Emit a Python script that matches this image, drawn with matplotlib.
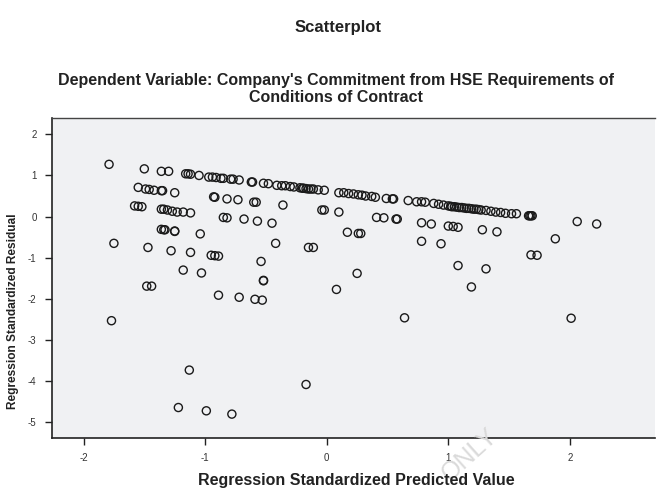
import matplotlib
matplotlib.use("Agg")
import matplotlib.pyplot as plt

plt.rcParams['font.family'] = ['Liberation Sans', 'DejaVu Sans']

title = "Scatterplot"
subtitle = ("Dependent Variable: Company's Commitment from HSE Requirements of\n"
            "Conditions of Contract")
x_label = "Regression Standardized Predicted Value"
y_label = "Regression Standardized Residual"

x_ticks = [-2, -1, 0, 1, 2]
y_ticks = [2, 1, 0, -1, -2, -3, -4, -5]

# Standardized predicted values (x) and standardized residuals (y)
predicted = [
    # upper diagonal band
    -1.79, -1.50, -1.36, -1.30, -1.16, -1.14, -1.12, -1.05, -0.97, -0.94,
    -0.91, -0.87, -0.85, -0.79, -0.77, -0.72, -0.62, -0.61, -0.52, -0.48,
    -0.41, -0.37, -0.34, -0.30, -0.27, -0.22, -0.20, -0.19, -0.17, -0.15,
    -0.13, -0.11, -0.07, -0.02, 0.10, 0.14, 0.18, 0.22, 0.26, 0.29,
    0.32, 0.37, 0.40, 0.49, 0.54, 0.55, 0.67, 0.74, 0.78, 0.81,
    0.88, 0.92, 0.96, 1.00, 1.02, 1.03, 1.05, 1.07, 1.09, 1.11,
    1.13, 1.15, 1.17, 1.19, 1.21, 1.23, 1.25, 1.27, 1.31, 1.35,
    1.39, 1.43, 1.47, 1.52, 1.56, 1.66, 1.67, 1.68, 1.69,
    # second band
    -1.55, -1.49, -1.46, -1.42, -1.36, -1.35, -1.25, -0.93, -0.92, -0.82,
    -0.73, -0.60, -0.58, -0.36, -0.04, -0.02, 0.10, 0.41, 0.47, 0.57,
    0.58, 0.78, 0.86, 1.00, 1.04, 1.08, 1.28, 1.40, 2.06, 2.22,
    # third band
    -1.58, -1.55, -1.52, -1.36, -1.34, -1.31, -1.27, -1.23, -1.18, -1.12,
    -0.85, -0.82, -0.68, -0.57, -0.45, 0.17, 0.26, 0.28, 0.78, 0.94,
    1.88, 1.68, 1.73,
    # below zero
    -1.36, -1.34, -1.33, -1.25, -1.25, -1.04, -1.75, -1.47, -1.28, -1.12,
    -0.95, -0.92, -0.89, -0.42, -0.15, -0.11, -0.54, -1.18, -1.03, -0.52,
    -0.52, -1.48, -1.44, 0.25, 1.08, 1.31, 0.08, 1.19,
    # lower outliers
    -0.89, -0.72, -0.59, -0.53, -1.77, 0.64, 2.01, -1.13, -0.17, -1.22,
    -0.99, -0.78,
]

residual = [
    1.27, 1.16, 1.10, 1.10, 1.04, 1.04, 1.03, 1.00, 0.96, 0.96,
    0.95, 0.93, 0.93, 0.91, 0.91, 0.89, 0.84, 0.84, 0.81, 0.80,
    0.76, 0.75, 0.75, 0.73, 0.72, 0.70, 0.69, 0.69, 0.68, 0.67,
    0.67, 0.67, 0.65, 0.64, 0.58, 0.58, 0.56, 0.55, 0.53, 0.52,
    0.50, 0.49, 0.47, 0.44, 0.43, 0.43, 0.39, 0.36, 0.36, 0.35,
    0.32, 0.30, 0.28, 0.26, 0.25, 0.24, 0.24, 0.23, 0.22, 0.22,
    0.21, 0.20, 0.20, 0.19, 0.18, 0.18, 0.17, 0.16, 0.15, 0.13,
    0.11, 0.10, 0.08, 0.07, 0.07, 0.02, 0.02, 0.02, 0.02,
    0.71, 0.67, 0.66, 0.64, 0.63, 0.63, 0.58, 0.48, 0.47, 0.43,
    0.41, 0.35, 0.35, 0.28, 0.16, 0.16, 0.11, -0.02, -0.03, -0.06,
    -0.06, -0.15, -0.18, -0.23, -0.24, -0.26, -0.32, -0.37, -0.12, -0.18,
    0.26, 0.25, 0.24, 0.18, 0.18, 0.16, 0.13, 0.11, 0.11, 0.09,
    -0.02, -0.03, -0.06, -0.11, -0.16, -0.38, -0.41, -0.41, -0.60, -0.66,
    -0.54, -0.93, -0.94,
    -0.31, -0.32, -0.32, -0.35, -0.36, -0.42, -0.65, -0.75, -0.83, -0.87,
    -0.94, -0.95, -0.96, -0.65, -0.75, -0.75, -1.09, -1.30, -1.37, -1.55,
    -1.56, -1.69, -1.69, -1.38, -1.19, -1.27, -1.77, -1.71,
    -1.91, -1.96, -2.01, -2.03, -2.53, -2.46, -2.47, -3.73, -4.08, -4.64,
    -4.72, -4.80,
]

fig = plt.figure(figsize=(6.57, 4.91), dpi=100)
fig.patch.set_facecolor("white")
ax = fig.add_axes([0.079, 0.108, 0.918, 0.652])
ax.set_facecolor("#f0f1f3")

ax.scatter(predicted, residual, s=34, facecolors="none",
           edgecolors="#1a1a1a", linewidths=1.0, zorder=3)

ax.set_xlim(-2.26, 2.70)
ax.set_ylim(-5.38, 2.40)
ax.set_xticks(x_ticks)
ax.set_yticks(y_ticks)
ax.set_xticklabels([str(v) for v in x_ticks])
ax.set_yticklabels([str(v) for v in y_ticks])
ax.tick_params(axis="both", direction="out", length=5, width=1,
               color="#222222", labelsize=7, labelcolor="#333333", pad=6)

for side in ("left", "bottom"):
    ax.spines[side].set_color("#222222")
    ax.spines[side].set_linewidth(1.2)
ax.spines["top"].set_color("#444444")
ax.spines["top"].set_linewidth(1.0)
ax.spines["right"].set_visible(False)

fig.text(0.543, 0.021, x_label, ha="center", va="center", fontsize=11.5,
         fontweight="bold", color="#222222")
fig.text(0.020, 0.367, y_label, ha="center", va="center", rotation=90,
         fontsize=8.6, fontweight="bold", color="#222222")

fig.text(0.514, 0.943, title, ha="center", va="center", fontsize=12,
         fontweight="bold", color="#222222")
fig.text(0.512, 0.818, subtitle, ha="center", va="center", fontsize=11.5,
         fontweight="bold", color="#222222", linespacing=1.15)

fig.text(0.715, 0.075, "ONLY", ha="center", va="center", fontsize=18,
         rotation=42, color="#dadada", zorder=0)

fig.savefig("out.png", dpi=100)
